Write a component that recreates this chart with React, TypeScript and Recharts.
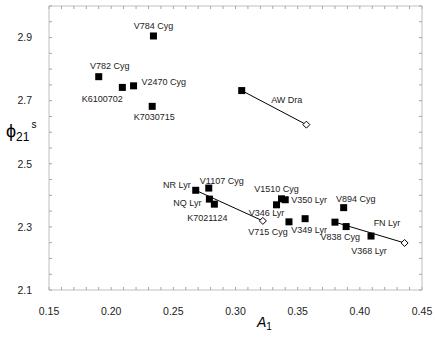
import React from 'react';
import { ScatterChart, Scatter, XAxis, YAxis } from 'recharts';

// filled squares
const starNames = [
  'V784 Cyg', 'V782 Cyg', 'K6100702', 'V2470 Cyg', 'K7030715', 'AW Dra',
  'NR Lyr', 'V1107 Cyg', 'NQ Lyr', 'K7021124', 'V346 Lyr', 'V1510 Cyg',
  'V350 Lyr', 'V715 Cyg', 'V349 Lyr', 'FN Lyr', 'V894 Cyg', 'V838 Cyg', 'V368 Lyr',
];
const a1Values = [
  0.234, 0.190, 0.209, 0.218, 0.233, 0.305,
  0.268, 0.2785, 0.279, 0.283, 0.333, 0.337,
  0.340, 0.343, 0.356, 0.380, 0.387, 0.389, 0.409,
];
const phi21Values = [
  2.905, 2.776, 2.742, 2.747, 2.682, 2.732,
  2.416, 2.423, 2.388, 2.372, 2.370, 2.389,
  2.386, 2.316, 2.326, 2.315, 2.361, 2.301, 2.271,
];

// open diamonds, joined to the filled point of the same star
const openNames = ['AW Dra', 'NR Lyr', 'FN Lyr'];
const openA1 = [0.357, 0.322, 0.436];
const openPhi21 = [2.624, 2.319, 2.249];

const xLabelTicks = [0.15, 0.2, 0.25, 0.3, 0.35, 0.4, 0.45];
const xMinorTicks = [
  0.15, 0.16, 0.17, 0.18, 0.19, 0.2, 0.21, 0.22, 0.23, 0.24, 0.25, 0.26, 0.27, 0.28, 0.29, 0.3,
  0.31, 0.32, 0.33, 0.34, 0.35, 0.36, 0.37, 0.38, 0.39, 0.4, 0.41, 0.42, 0.43, 0.44, 0.45,
];
const yLabelTicks = [2.1, 2.3, 2.5, 2.7, 2.9];
const yMinorTicks = [
  2.1, 2.15, 2.2, 2.25, 2.3, 2.35, 2.4, 2.45, 2.5, 2.55, 2.6, 2.65, 2.7, 2.75, 2.8, 2.85, 2.9, 2.95, 3.0,
];

// label placement relative to the marker [dx, dy, anchor]
const labelPos: Record<string, [number, number, string]> = {
  'V784 Cyg': [0, -10, 'middle'],
  'V782 Cyg': [11, -11, 'middle'],
  'K6100702': [-20, 11, 'middle'],
  'V2470 Cyg': [8, -4, 'start'],
  'K7030715': [2, 11, 'middle'],
  'AW Dra': [45, 9, 'middle'],
  'NR Lyr': [-5, -5, 'end'],
  'V1107 Cyg': [13, -7, 'middle'],
  'NQ Lyr': [-22, 4, 'middle'],
  'K7021124': [-7, 14, 'middle'],
  'V346 Lyr': [-10, 8, 'middle'],
  'V1510 Cyg': [-5, -10, 'middle'],
  'V350 Lyr': [6, 0, 'start'],
  'V715 Cyg': [-21, 10, 'middle'],
  'V349 Lyr': [4, 11, 'middle'],
  'FN Lyr': [52, 1, 'middle'],
  'V894 Cyg': [12, -9, 'middle'],
  'V838 Cyg': [-6, 10, 'middle'],
  'V368 Lyr': [-2, 15, 'middle'],
};

const filled = starNames.map((name, i) => ({ name, a1: a1Values[i], phi: phi21Values[i] }));
const open = openNames.map((name, i) => ({ name, a1: openA1[i], phi: openPhi21[i] }));
const pairs = openNames.map((name, i) => {
  const j = starNames.indexOf(name);
  return [
    { a1: a1Values[j], phi: phi21Values[j] },
    { a1: openA1[i], phi: openPhi21[i] },
  ];
});

const FONT = '"Liberation Sans", Arial, sans-serif';
const GRID = '#bfbfbf';
const TICK = '#a6a6a6';

const Square = (props: any) => {
  const { cx, cy, payload } = props;
  const pos = labelPos[payload.name];
  return (
    <g>
      <rect x={cx - 3.5} y={cy - 3.5} width={7} height={7} fill="#000" />
      {pos && (
        <text
          x={cx + pos[0]}
          y={cy + pos[1]}
          dy="0.35em"
          textAnchor={pos[2] as any}
          fontSize={9}
          fontFamily={FONT}
          fill="#222"
        >
          {payload.name}
        </text>
      )}
    </g>
  );
};

const Diamond = (props: any) => {
  const { cx, cy } = props;
  return (
    <path
      d={`M${cx},${cy - 3.5}L${cx + 3.5},${cy}L${cx},${cy + 3.5}L${cx - 3.5},${cy}Z`}
      fill="#fff"
      stroke="#000"
      strokeWidth={1}
    />
  );
};

const NoDot = () => <g />;
const NoTick = () => <g />;

const YTitle = () => (
  <text x={6} y={137} fontFamily={FONT} fill="#000">
    <tspan fontSize={18}>ϕ</tspan>
    <tspan fontSize={12} dy={4}>21</tspan>
    <tspan fontSize={10} dy={-13} dx={2}>s</tspan>
  </text>
);

const XTitle = () => (
  <text x={257} y={327} fontFamily={FONT} fill="#000">
    <tspan fontSize={14} fontStyle="italic">A</tspan>
    <tspan fontSize={10} dy={3}>1</tspan>
  </text>
);

const tickStyle = { fontSize: 10.5, fontFamily: FONT, fill: '#222' };

export default function App() {
  return (
    <div style={{ position: 'absolute', left: 0, top: 0, background: '#fff' }}>
      <ScatterChart width={436} height={337} margin={{ top: 6, right: 14, bottom: 0, left: 0 }}>
        <XAxis
          xAxisId="main"
          dataKey="a1"
          type="number"
          domain={[0.15, 0.45]}
          ticks={xLabelTicks}
          tickFormatter={(v: number) => v.toFixed(2)}
          tickLine={false}
          tickMargin={12}
          axisLine={{ stroke: GRID }}
          tick={tickStyle}
          height={47}
          allowDataOverflow
          label={<XTitle />}
        />
        <XAxis
          xAxisId="minorB"
          dataKey="a1"
          type="number"
          orientation="bottom"
          mirror
          domain={[0.15, 0.45]}
          ticks={xMinorTicks}
          interval={0}
          tick={NoTick}
          tickSize={3}
          tickLine={{ stroke: TICK }}
          axisLine={false}
          allowDataOverflow
        />
        <XAxis
          xAxisId="top"
          dataKey="a1"
          type="number"
          orientation="top"
          mirror
          domain={[0.15, 0.45]}
          ticks={xMinorTicks}
          interval={0}
          tick={NoTick}
          tickSize={3}
          tickLine={{ stroke: TICK }}
          axisLine={{ stroke: GRID }}
          allowDataOverflow
        />
        <YAxis
          yAxisId="main"
          dataKey="phi"
          type="number"
          domain={[2.1, 3.0]}
          ticks={yLabelTicks}
          tickFormatter={(v: number) => v.toFixed(1)}
          tickLine={false}
          tickMargin={11}
          axisLine={{ stroke: GRID }}
          tick={tickStyle}
          width={49}
          allowDataOverflow
          label={<YTitle />}
        />
        <YAxis
          yAxisId="minorL"
          dataKey="phi"
          type="number"
          orientation="left"
          mirror
          domain={[2.1, 3.0]}
          ticks={yMinorTicks}
          interval={0}
          tick={NoTick}
          tickSize={3}
          tickLine={{ stroke: TICK }}
          axisLine={false}
          allowDataOverflow
        />
        <YAxis
          yAxisId="right"
          dataKey="phi"
          type="number"
          orientation="right"
          mirror
          domain={[2.1, 3.0]}
          ticks={yMinorTicks}
          interval={0}
          tick={NoTick}
          tickSize={3}
          tickLine={{ stroke: TICK }}
          axisLine={{ stroke: GRID }}
          allowDataOverflow
        />
        {/* hidden series so the tick-only axes are registered */}
        <Scatter xAxisId="minorB" yAxisId="minorL" data={filled} shape={NoDot} isAnimationActive={false} />
        <Scatter xAxisId="top" yAxisId="right" data={filled} shape={NoDot} isAnimationActive={false} />
        {pairs.map((p, i) => (
          <Scatter
            key={i}
            xAxisId="main"
            yAxisId="main"
            data={p}
            line={{ stroke: '#000', strokeWidth: 1 }}
            shape={NoDot}
            isAnimationActive={false}
          />
        ))}
        <Scatter xAxisId="main" yAxisId="main" data={open} shape={Diamond} isAnimationActive={false} />
        <Scatter xAxisId="main" yAxisId="main" data={filled} shape={Square} isAnimationActive={false} />
      </ScatterChart>
    </div>
  );
}
